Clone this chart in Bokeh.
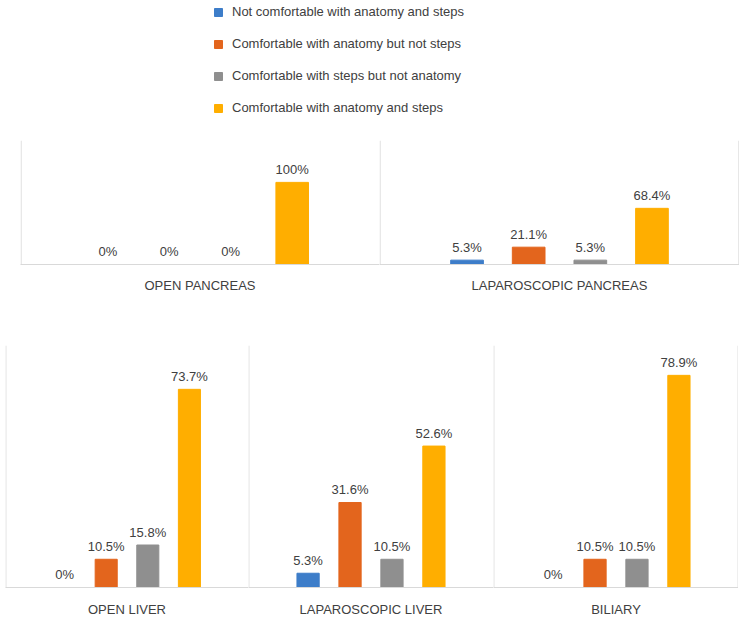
from bokeh.plotting import figure
from bokeh.models import Range1d, Span, Legend, LegendItem, ColumnDataSource, Spacer, FixedTicker
from bokeh.layouts import column, row
from bokeh.core.properties import value
from bokeh.embed import file_html
from bokeh.resources import INLINE

# ---- data ----
series = [
    "Not comfortable with anatomy and steps",
    "Comfortable with anatomy but not steps",
    "Comfortable with steps but not anatomy",
    "Comfortable with anatomy and steps",
]
colors = ["#3D7DC9", "#E3651D", "#8F8F8F", "#FFAE00"]
panel_titles = ["OPEN PANCREAS", "LAPAROSCOPIC PANCREAS", "OPEN LIVER",
                "LAPAROSCOPIC LIVER", "BILIARY"]
open_pancreas = [0, 0, 0, 100]
lap_pancreas = [5.3, 21.1, 5.3, 68.4]
open_liver = [0, 10.5, 15.8, 73.7]
lap_liver = [5.3, 31.6, 10.5, 52.6]
biliary = [0, 10.5, 10.5, 78.9]

FONT = "Liberation Sans"
TXT = "#404040"
LINE = "#D9D9D9"
X0, X1 = -1.42, 4.42


def make_panel(title, vals, width, height, y_end, border_bottom, standoff, right_line=False):
    src = ColumnDataSource(dict(
        x=list(range(len(vals))), top=vals, color=colors,
        label=[f"{v:g}%" for v in vals]))
    p = figure(width=width, height=height, x_range=Range1d(X0, X1),
               y_range=Range1d(0, y_end), output_backend="svg",
               toolbar_location=None, min_border_left=0, min_border_right=0,
               min_border_top=0, min_border_bottom=border_bottom,
               y_axis_location=None, outline_line_color=None)
    p.grid.visible = False
    p.vbar(x="x", top="top", width=0.53, color="color", source=src)
    p.text(x="x", y="top", text="label", source=src, text_align="center",
           text_baseline="alphabetic", y_offset=-13, text_font_size="13px",
           text_color=TXT, text_font=value(FONT))
    ax = p.xaxis[0]
    ax.ticker = FixedTicker(ticks=[])
    ax.axis_line_color = LINE
    ax.major_tick_line_color = None
    ax.minor_tick_line_color = None
    ax.major_tick_out = 0
    ax.major_tick_in = 0
    ax.minor_tick_out = 0
    ax.major_label_standoff = 0
    ax.major_label_text_font_size = "0px"
    ax.axis_label = title
    ax.axis_label_standoff = standoff
    ax.axis_label_text_font_style = "normal"
    ax.axis_label_text_font_size = "13px"
    ax.axis_label_text_color = TXT
    ax.axis_label_text_font = FONT
    p.add_layout(Span(location=X0 + 0.01, dimension="height", line_color=LINE, line_width=1))
    if right_line:
        p.add_layout(Span(location=X1 - 0.01, dimension="height", line_color=LINE, line_width=1))
    return p


# ---- legend figure ----
lg = figure(width=742, height=140, x_range=Range1d(0, 1), y_range=Range1d(0, 1),
            output_backend="svg", toolbar_location=None, min_border=0,
            x_axis_location=None, y_axis_location=None, outline_line_color=None)
lg.grid.visible = False
items = []
for name, c in zip(series, colors):
    # zero-height placeholder bar: only its legend swatch is visible
    r = lg.vbar(x=[0.5], top=[0], bottom=[0], width=0.0, color=c)
    items.append(LegendItem(label=name, renderers=[r]))
legend = Legend(items=items, location=(213, 25), padding=0, margin=0,
                border_line_color=None, background_fill_alpha=0,
                glyph_width=10, glyph_height=10, label_height=15, spacing=17,
                label_standoff=9, label_text_font_size="13px",
                label_text_color=TXT, label_text_font=FONT)
lg.add_layout(legend)

# ---- panels ----
p1 = make_panel(panel_titles[0], open_pancreas, 359, 205, 151, 81, 13)
p2 = make_panel(panel_titles[1], lap_pancreas, 360, 205, 151, 81, 13, right_line=True)
p3 = make_panel(panel_titles[2], open_liver, 243, 275, 90, 33, 14)
p4 = make_panel(panel_titles[3], lap_liver, 245, 275, 90, 33, 14)
p5 = make_panel(panel_titles[4], biliary, 245, 275, 90, 33, 14, right_line=True)

layout = column(lg,
                row(Spacer(width=20, height=205), p1, p2),
                row(Spacer(width=5, height=275), p3, p4, p5))

open("out.html", "w").write(file_html(layout, INLINE))
